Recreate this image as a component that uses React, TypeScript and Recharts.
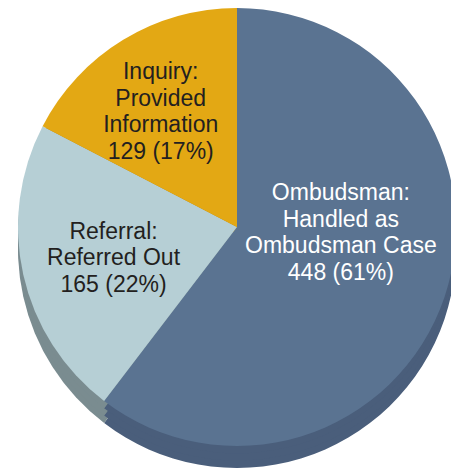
import React from "react";
import { Pie, PieChart } from "recharts";

const categories = ["Ombudsman", "Referral", "Inquiry"];
const labelLines = [
  ["Ombudsman:", "Handled as", "Ombudsman Case"],
  ["Referral:", "Referred Out"],
  ["Inquiry:", "Provided", "Information"],
];
const values = [448, 165, 129];
const percents = [61, 22, 17];

const topColors = ["#5A7391", "#B6CFD5", "#E3A814"];
const sideColors = ["#4A5E7B", "#7A8C90", "#B5860F"];
const textColors = ["#FFFFFF", "#231F20", "#231F20"];

// label placement relative to slice mid angle (radius px, angle shift deg)
const placement = [
  { r: 104, shift: 16 },
  { r: 127, shift: 1 },
  { r: 139, shift: 2 },
];

const RAD = Math.PI / 180;
const FONT = 23;
const LINE = 26.5;

const data = categories.map((name, i) => ({ name, value: values[i] }));
const topData = data.map((d, i) => ({ ...d, fill: topColors[i] }));
const sideData = data.map((d, i) => ({ ...d, fill: sideColors[i] }));

function renderLabel(props: any) {
  const { cx, cy, midAngle, index } = props;
  const p = placement[index];
  const a = (midAngle + p.shift) * RAD;
  const x = cx + p.r * Math.cos(a);
  const y = cy - p.r * Math.sin(a);
  const lines = [...labelLines[index], `${values[index]} (${percents[index]}%)`];
  const firstBaseline = y - ((lines.length - 1) * LINE) / 2 + FONT * 0.36;
  return (
    <text
      key={`lbl-${index}`}
      x={x}
      y={firstBaseline}
      textAnchor="middle"
      fill={textColors[index]}
      fontFamily="'Liberation Sans', Arial, sans-serif"
      fontSize={FONT}
    >
      {lines.map((t, i) => (
        <tspan key={i} x={x} dy={i === 0 ? 0 : LINE}>
          {t}
        </tspan>
      ))}
    </text>
  );
}

export default function App() {
  const cx = 237;
  const cy = 227;
  const r = 219;
  const depth = 22;
  return (
    <div style={{ position: "absolute", left: 0, top: 0, width: 451, height: 468, background: "#fff" }}>
      <PieChart width={451} height={468} margin={{ top: 0, right: 0, bottom: 0, left: 0 }}>
        {[depth, depth * 0.66, depth * 0.33].map((off) => (
          <Pie
            key={off}
            data={sideData}
            dataKey="value"
            cx={cx}
            cy={cy + off}
            outerRadius={r}
            startAngle={90}
            endAngle={-270}
            stroke="none"
            isAnimationActive={false}
          />
        ))}
        <Pie
          data={topData}
          dataKey="value"
          cx={cx}
          cy={cy}
          outerRadius={r}
          startAngle={90}
          endAngle={-270}
          stroke="none"
          label={renderLabel}
          labelLine={false}
          isAnimationActive={false}
        />
      </PieChart>
    </div>
  );
}
